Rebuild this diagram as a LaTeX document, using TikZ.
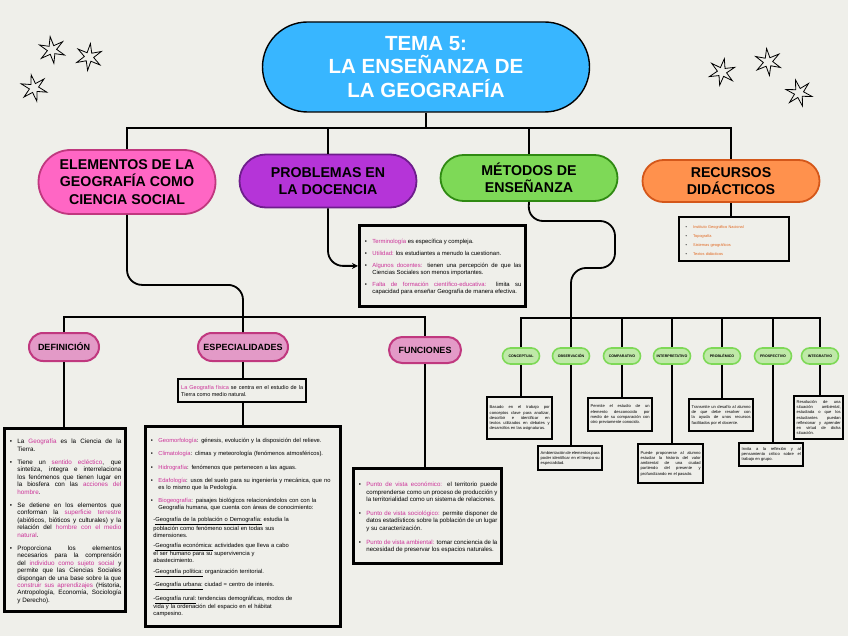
\documentclass[tikz,border=0pt]{standalone}
\usepackage{fontspec}
\setmainfont{Liberation Sans}
\usetikzlibrary{shapes.geometric,arrows.meta}
\definecolor{fondo}{HTML}{EFEFEA}
\definecolor{cielo}{HTML}{38B6FF}
\definecolor{rosa}{HTML}{FF66C4}
\definecolor{rosaborde}{HTML}{C0387F}
\definecolor{morado}{HTML}{B534D8}
\definecolor{moradoborde}{HTML}{6E1D8C}
\definecolor{verde}{HTML}{7ED957}
\definecolor{verdeborde}{HTML}{2F8A12}
\definecolor{naranja}{HTML}{FF914D}
\definecolor{naranjaborde}{HTML}{D4571A}
\definecolor{rosaclaro}{HTML}{E39AC7}
\definecolor{verdeclaro}{HTML}{BFE9A8}
\definecolor{resalte}{HTML}{CC3399}
\definecolor{textonar}{HTML}{E0661E}
\hyphenpenalty=10000
\exhyphenpenalty=10000
\tolerance=9999
\emergencystretch=12pt
\newcommand{\res}[1]{\textcolor{resalte}{#1}}
\newcommand{\vineta}[1][0pt]{\par\vspace{#1}\noindent\hangindent=9pt\makebox[9pt][l]{\hspace{1.5pt}\textbullet}\ignorespaces}
\newcommand{\subrama}[2][140pt]{\par\vspace{5pt}\noindent\hspace*{4pt}\parbox[t]{#1}{\raggedright -#2}}
\begin{document}
\begin{tikzpicture}[x=1pt,y=-1pt,
  pildora/.style args={#1x#2}{draw, rectangle, align=center, inner sep=1pt,
    minimum width=#1pt, minimum height=#2pt, rounded corners=#2pt/2},
  mayor/.style={line width=1.8pt, font=\bfseries\fontsize{14.2}{17.5}\selectfont},
  menor/.style={pildora=#1, line width=2pt, draw=rosaborde, fill=rosaclaro,
    font=\bfseries\fontsize{9}{10}\selectfont},
  metodo/.style={pildora=37x16, line width=1.6pt, draw=verde, fill=verdeclaro,
    font=\bfseries\fontsize{3.6}{4}\selectfont},
  caja/.style={draw, line width=2.8pt, fill=fondo, anchor=north west, align=justify,
    inner sep=4pt, font=\fontsize{6}{7.3}\selectfont},
  cajita/.style={caja, line width=2.4pt, inner sep=2.5pt, font=\fontsize{4.1}{5.2}\selectfont},
  rama/.style={line width=1.8pt, rounded corners=15pt},
  linea/.style={line width=1.8pt},
  estrella/.style={star, star points=6, star point ratio=2.9, draw, line width=0.8pt,
    minimum size=27pt, inner sep=0pt}
]
\fill[fondo] (0,0) rectangle (848,636);
\useasboundingbox (0,0) rectangle (848,636);

% estrellas
\foreach \sx/\sy/\sr [count=\i] in {52/50/8, 89/57/-6, 34/88/12, 722/72/-10, 768/62/6, 799/93/15}
  \node[estrella, rotate=\sr] (star\i) at (\sx,\sy) {};

% tema y ramas principales
\node[pildora=327x90, fill=cielo, line width=1.4pt, text=white,
  font=\bfseries\fontsize{20.5}{23.5}\selectfont] (tema) at (426,67) {TEMA 5:\\LA ENSEÑANZA DE\\LA GEOGRAFÍA};
\node[pildora=177x64, mayor, fill=rosa, draw=rosaborde] (elementos) at (127,182) {ELEMENTOS DE LA\\GEOGRAFÍA COMO\\CIENCIA SOCIAL};
\node[pildora=177x53, mayor, fill=morado, draw=moradoborde] (problemas) at (328,181) {PROBLEMAS EN\\LA DOCENCIA};
\node[pildora=177x46, mayor, fill=verde, draw=verdeborde] (metodos) at (529,178) {MÉTODOS DE\\ENSEÑANZA};
\node[pildora=177x42, mayor, fill=naranja, draw=naranjaborde] (recursos) at (731,181) {RECURSOS\\DIDÁCTICOS};

\coordinate (cima) at (0,128);
\draw[linea] (tema.south) -- (tema.south |- cima);
\draw[linea] (elementos.north) -- (elementos.north |- cima) -- (recursos.north |- cima) -- (recursos.north);
\draw[linea] (problemas.north) -- (problemas.north |- cima);
\draw[linea] (metodos.north) -- (metodos.north |- cima);

% problemas en la docencia
\node[caja, text width=158pt, minimum height=81pt, font=\fontsize{5.9}{7}\selectfont] (probcaja) at (358,224) {%
\vineta \res{Terminología} es específica y compleja.
\vineta[5pt] \res{Utilidad:} los estudiantes a menudo la cuestionan.
\vineta[5pt] \res{Algunos docentes:} tienen una percepción de que las Ciencias Sociales son menos importantes.
\vineta[5pt] \res{Falta de formación científico-educativa:} limita su capacidad para enseñar Geografía de manera efectiva.\par};
\draw[rama, -{Stealth[length=6pt,width=6pt]}] (problemas.south) |- (probcaja.west);

% recursos didacticos
\node[caja, line width=2.4pt, text width=100pt, minimum height=44pt, inner sep=5pt,
  font=\fontsize{3.9}{5}\selectfont, align=left] (reccaja) at (678,216) {%
\vineta \textcolor{textonar}{Instituto Geográfico Nacional}
\vineta[4pt] \textcolor{textonar}{Topografía}
\vineta[4pt] \textcolor{textonar}{Sistemas geográficos}
\vineta[4pt] \textcolor{textonar}{Textos didácticos}\par};
\draw[linea] (recursos.south) -- (recursos.south |- reccaja.north);

% elementos de la geografia
\node[menor=70x28] (definicion) at (64,347) {DEFINICIÓN};
\node[menor=90x28] (especialidades) at (243,347) {ESPECIALIDADES};
\node[menor=72x26] (funciones) at (425,350) {FUNCIONES};
\coordinate (barra) at (0,317);
\draw[rama] (elementos.south) -- ++(0,70) -| (especialidades.north);
\draw[linea] (definicion.north) -- (definicion.north |- barra) -- (funciones.north |- barra) -- (funciones.north);

\node[caja, text width=113pt, minimum height=183pt, font=\fontsize{6.3}{7.4}\selectfont] (defcaja) at (3,427) {%
\vineta La \res{Geografía} es la Ciencia de la Tierra.
\vineta[6pt] Tiene un \res{sentido ecléctico}, que sintetiza, integra e interrelaciona los fenómenos que tienen lugar en la biosfera con las \res{acciones del hombre}.
\vineta[6pt] Se detiene en los elementos que conforman la \res{superficie terrestre} (abióticos, bióticos y culturales) y la relación del \res{hombre con el medio natural}.
\vineta[6pt] Proporciona los elementos necesarios para la comprensión del \res{individuo como sujeto social} y permite que las Ciencias Sociales dispongan de una base sobre la que \res{construir sus aprendizajes} (Historia, Antropología, Economía, Sociología y Derecho).\par};
\draw[linea] (definicion.south) -- (definicion.south |- defcaja.north);

\node[caja, line width=2.4pt, text width=122pt, minimum height=23pt, inner sep=3pt,
  font=\fontsize{5.5}{6.8}\selectfont] (fisica) at (177,378) {%
\res{La Geografía física} se centra en el estudio de la Tierra como medio natural.};
\draw[linea] (especialidades.south) -- (especialidades.south |- fisica.north);

\node[caja, text width=187pt, minimum height=200pt, align=left, font=\fontsize{5.8}{7.1}\selectfont] (espcaja) at (144,425) {%
\vineta \res{Geomorfología}: génesis, evolución y la disposición del relieve.
\vineta[6pt] \res{Climatología}: climas y meteorología (fenómenos atmosféricos).
\vineta[6pt] \res{Hidrografía}: fenómenos que pertenecen a las aguas.
\vineta[6pt] \res{Edafología}: usos del suelo para su ingeniería y mecánica, que no es lo mismo que la Pedología.
\vineta[6pt] \res{Biogeografía}: paisajes biológicos relacionándolos con con la Geografía humana, que cuenta con áreas de conocimiento:
\subrama{\underline{Geografía de la población o Demografía:} estudia la población como fenómeno social en todas sus dimensiones.}
\subrama{\underline{Geografía económica:} actividades que lleva a cabo el ser humano para su supervivencia y abastecimiento.}
\subrama{\underline{Geografía política:} organización territorial.}
\subrama{\underline{Geografía urbana:} ciudad = centro de interés.}
\subrama{\underline{Geografía rural:} tendencias demográficas, modos de vida y la ordenación del espacio en el hábitat campesino.}\par};
\draw[linea] (fisica.south -| especialidades.south) -- (especialidades.south |- espcaja.north);

\node[caja, text width=140pt, minimum height=95pt, font=\fontsize{6.1}{7.6}\selectfont] (funcaja) at (352,467) {%
\vineta \res{Punto de vista económico:} el territorio puede comprenderse como un proceso de producción y la territorialidad como un sistema de relaciones.
\vineta[6pt] \res{Punto de vista sociológico:} permite disponer de datos estadísticos sobre la población de un lugar y su caracterización.
\vineta[6pt] \res{Punto de vista ambiental:} tomar conciencia de la necesidad de preservar los espacios naturales.\par};
\draw[linea] (funciones.south) -- (funciones.south |- funcaja.north);

% metodos de ensenanza
\coordinate (barrab) at (0,318);
\draw[rama] (metodos.south) -- (528,221) -- (615,221) -- (615,268) -- (571,268) -- (571,318);
\foreach \mx/\mt [count=\i] in {521/CONCEPTUAL, 571/OBSERVACIÓN, 622/COMPARATIVO, 672/INTERPRETATIVO,
    722/PROBLÉMICO, 773/PROSPECTIVO, 820/INTEGRATIVO}
  \node[metodo] (m\i) at (\mx,356) {\mt};
\draw[linea] (m1.north) -- (m1.north |- barrab) -- (m7.north |- barrab) -- (m7.north);
\foreach \i in {2,...,6}
  \draw[linea] (m\i.north) -- (m\i.north |- barrab);

\node[cajita, text width=60pt, minimum height=42pt] (c1) at (486,396) {Basado en el trabajo por conceptos clave para analizar, describir e identificar en textos utilizados en debates y desarrollos en las asignaturas.};
\node[cajita, text width=59pt, minimum height=24pt] (c2) at (537,445) {Ambientación de elementos para poder identificar en el tiempo su especialidad.};
\node[cajita, text width=59pt, minimum height=33pt] (c3) at (587,397) {Permite el estudio de un elemento desconocido por medio de su comparación con otro previamente conocido.};
\node[cajita, text width=60pt, minimum height=39pt] (c4) at (637,443) {Puede proponerse al alumno estudiar la historia del valor ambiental de una ciudad partiendo del presente y profundizando en el pasado.};
\node[cajita, text width=59pt, minimum height=32pt] (c5) at (688,398) {Transmite un desafío al alumno de que debe resolver con la ayuda de unos recursos facilitados por el docente.};
\node[cajita, text width=59pt, minimum height=23pt] (c6) at (738,442) {Invita a la reflexión y al pensamiento crítico sobre el trabajo en grupo.};
\node[cajita, text width=44pt, minimum height=43pt] (c7) at (793,395) {Resolución de una situación ambiental, estudiada o que los estudiantes puedan reflexionar y aprender en virtud de dicha situación.};
\foreach \i in {1,...,7}
  \draw[linea] (m\i.south) -- (m\i.south |- c\i.north);
\end{tikzpicture}
\end{document}
